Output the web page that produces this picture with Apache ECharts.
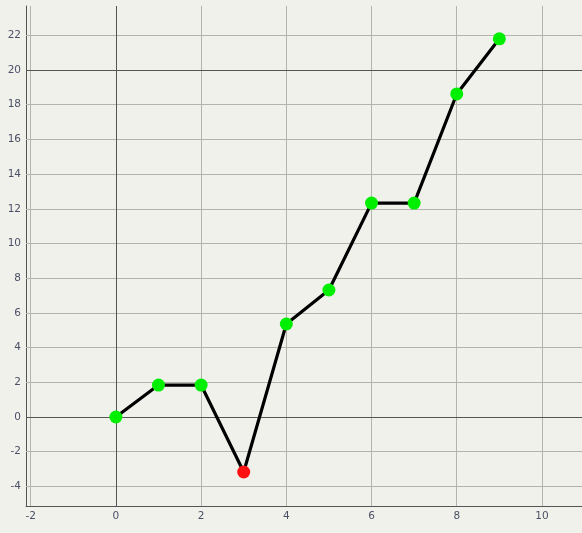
<!DOCTYPE html>
<html>
<head>
<meta charset="utf-8">
<script src="https://cdn.jsdelivr.net/npm/echarts@6/dist/echarts.min.js"></script>
<style>
  html, body { margin: 0; padding: 0; background: #f1f1ec; }
  #chart { width: 582px; height: 533px; }
</style>
</head>
<body>
<div id="chart"></div>
<script>
// values
var xs = [0, 1, 2, 3, 4, 5, 6, 7, 8, 9]
var ys = [0, 1.84, 1.84, -3.17, 5.36, 7.32, 12.33, 12.33, 18.62, 21.8]

var xTicks = [-2, 0, 2, 4, 6, 8, 10]
var yTicks = [-4, -2, 0, 2, 4, 6, 8, 10, 12, 14, 16, 18, 20, 22]
var xDark = [0]
var yDark = [0, 20]

var lightGrid = '#b4b4ad'
var darkGrid = '#555555'
var labelColor = '#4c5066'

var myChart = echarts.init(document.getElementById('chart'))

//grid lines drawn as mark lines so they sit exactly on the tick values
var gridLines = []
xTicks.forEach(function (v) {
    if (xDark.indexOf(v) < 0) gridLines.push({ xAxis: v, lineStyle: { color: lightGrid } })
})
yTicks.forEach(function (v) {
    if (yDark.indexOf(v) < 0) gridLines.push({ yAxis: v, lineStyle: { color: lightGrid } })
})
xDark.forEach(function (v) { gridLines.push({ xAxis: v, lineStyle: { color: darkGrid } }) })
yDark.forEach(function (v) { gridLines.push({ yAxis: v, lineStyle: { color: darkGrid } }) })

var points = xs.map(function (x, i) {
    return {
        value: [x, ys[i]],
        itemStyle: { color: ys[i] < 0 ? '#ff1010' : '#00ee00' }
    }
})

var option = {
    backgroundColor: '#f1f1ec',
    animation: false,
    grid: { left: 26, top: 6, right: 0, bottom: 27 },
    xAxis: {
        type: 'value',
        min: -2.11,
        max: 10.94,
        axisLine: { show: true, onZero: false, lineStyle: { color: darkGrid, width: 1 } },
        axisTick: { show: false },
        splitLine: { show: false },
        axisLabel: {
            customValues: xTicks,
            color: labelColor,
            fontFamily: 'DejaVu Sans',
            fontSize: 10.5,
            margin: 5
        }
    },
    yAxis: {
        type: 'value',
        min: -5.13,
        max: 23.69,
        axisLine: { show: true, onZero: false, lineStyle: { color: darkGrid, width: 1 } },
        axisTick: { show: false },
        splitLine: { show: false },
        axisLabel: {
            customValues: yTicks,
            color: labelColor,
            fontFamily: 'DejaVu Sans',
            fontSize: 10.5,
            margin: 5
        }
    },
    series: [
        {
            type: 'line',
            data: [],
            silent: true,
            markLine: {
                silent: true,
                symbol: 'none',
                label: { show: false },
                lineStyle: { type: 'solid', width: 1 },
                data: gridLines
            }
        },
        {
            type: 'line',
            data: points,
            symbol: 'circle',
            symbolSize: 13,
            lineStyle: { color: '#000000', width: 3.2 },
            z: 5
        }
    ]
}
myChart.setOption(option)
</script>
</body>
</html>
